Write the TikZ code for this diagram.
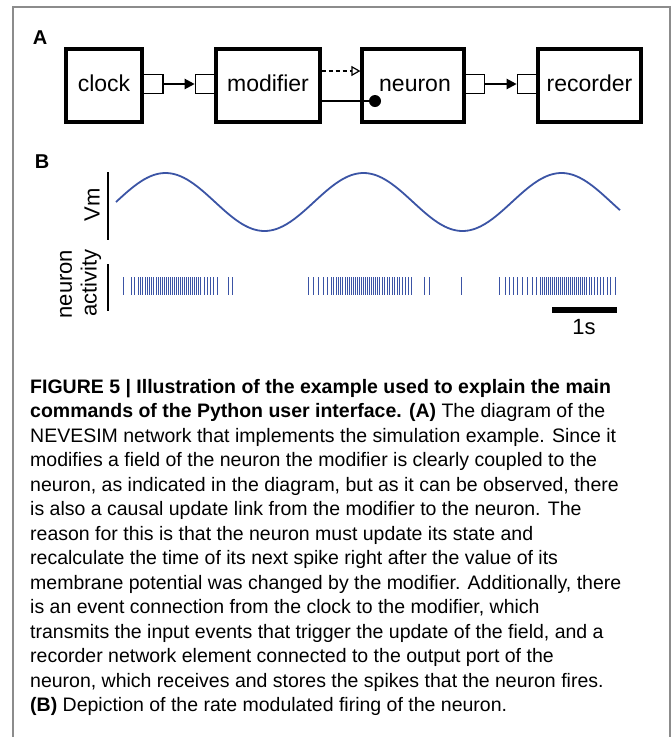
\documentclass[tikz,border=0pt]{standalone}
\usepackage{fontspec}
\setmainfont{Liberation Sans}
\usetikzlibrary{arrows.meta}
\definecolor{trace}{RGB}{59,84,165}
\definecolor{framegray}{RGB}{140,140,140}
\begin{document}
\begin{tikzpicture}[x=1pt,y=-1pt,
  box/.style={draw,line width=3.2pt,inner sep=0pt,text height=16pt,text depth=5pt,font=\fontsize{23}{27}\selectfont},
  port/.style={draw,line width=1.6pt,inner sep=0pt,minimum width=21pt,minimum height=19pt},
  conn/.style={line width=2.2pt,-{Triangle[length=10pt,width=10pt]}},
  dotnode/.style={circle,fill,inner sep=0pt,minimum size=12pt},
  panel/.style={font=\fontsize{20}{24}\selectfont\bfseries},
  lab/.style={font=\fontsize{22}{26}\selectfont},
  axis/.style={line width=2.2pt},
  spike/.style={trace,line width=1pt},
  captext/.style={anchor=base west,inner sep=0pt,font=\fontsize{19.5}{24}\selectfont}]
\useasboundingbox (0,0) rectangle (671,737);
% frame
\draw[framegray,line width=1.5pt] (13,737) -- (13,7) -- (670,7) -- (670,737);
% Panel A
\node[panel] (labA) at (40,38) {A};
\node[box,minimum width=76pt,minimum height=73pt] (clock) at (104,85.5) {clock};
\node[box,minimum width=104pt,minimum height=73pt] (modifier) at (268,85.5) {modifier};
\node[box,minimum width=102pt,minimum height=73pt] (neuron) at (413,85.5) {\hspace*{4pt}neuron};
\node[box,minimum width=103pt,minimum height=73pt] (recorder) at (589.5,85.5) {recorder};
\node[port] (cport) at (152.5,84) {};
\node[port] (mport) at (206,84) {};
\node[port] (nport) at (474,84) {};
\node[port] (rport) at (528,84) {};
\draw[conn] (cport.east) -- (mport.west);
\draw[conn] (nport.east) -- (rport.west);
\coordinate (dashy) at (0,71);
\draw[line width=1.2pt,dash pattern=on 4pt off 3pt,-{Triangle[open,length=9pt,width=10pt,line width=1.2pt]}] (modifier.east |- dashy) -- (neuron.west |- dashy);
\node[dotnode] (dot) at (375,101) {};
\draw[line width=2.2pt] (modifier.east |- dot) -- (dot);
% Panel B
\node[panel] (labB) at (42,162) {B};
\draw[axis] (108,172) -- (108,240);
\node[lab,rotate=90] (vm) at (92,205) {Vm};
\draw[trace,line width=1.8pt,line join=round] plot[domain=116:620,samples=200,smooth] (\x,{202-29*sin((\x-116)*1.818182)});
\draw[axis] (108,264) -- (108,311);
\node[lab,rotate=90] (neur) at (66,284) {neuron};
\node[lab,rotate=90] (act) at (91,283) {activity};
\foreach \s in {123,131,134,138,140,142,145,147,149,151,153,156,158,160,162,164,166,168,170,172,174,176,178,180,182,184,186,188,190,192,194,196,198,200,204,207,210,213,217,228,232,
 308,313,318,323,327,331,333,336,338,340,342,345,347,349,351,353,355,357,359,361,363,365,367,369,371,373,375,377,379,382,384,387,389,392,394,397,399,402,405,408,411,424,429,461,
 499,505,509,513,517,522,527,532,536,540,542,544,546,548,550,552,554,556,558,560,562,564,566,568,570,572,574,576,578,580,582,584,586,589,591,594,597,600,603,607,610,615}
  \draw[spike] (\s,277) -- (\s,295);
\draw[line width=6pt] (552,310) -- (617,310);
\node[lab] (sec) at (584,327) {1s};
% Caption
\node[captext] (c1) at (30,393) {\textbf{FIGURE 5 | Illustration of the example used to explain the main}};
\node[captext] (c2) at (30,417.5) {\textbf{commands of the Python user interface. (A)} The diagram of the};
\node[captext] (c3) at (30,442) {NEVESIM network that implements the simulation example. Since it};
\node[captext] (c4) at (30,466.5) {modifies a field of the neuron the modifier is clearly coupled to the};
\node[captext] (c5) at (30,491) {neuron, as indicated in the diagram, but as it can be observed, there};
\node[captext] (c6) at (30,515.5) {is also a causal update link from the modifier to the neuron. The};
\node[captext] (c7) at (30,540) {reason for this is that the neuron must update its state and};
\node[captext] (c8) at (30,564.5) {recalculate the time of its next spike right after the value of its};
\node[captext] (c9) at (30,589) {membrane potential was changed by the modifier. Additionally, there};
\node[captext] (c10) at (30,613.5) {is an event connection from the clock to the modifier, which};
\node[captext] (c11) at (30,638) {transmits the input events that trigger the update of the field, and a};
\node[captext] (c12) at (30,662.5) {recorder network element connected to the output port of the};
\node[captext] (c13) at (30,687) {neuron, which receives and stores the spikes that the neuron fires.};
\node[captext] (c14) at (30,711.5) {\textbf{(B)} Depiction of the rate modulated firing of the neuron.};
\end{tikzpicture}
\end{document}
